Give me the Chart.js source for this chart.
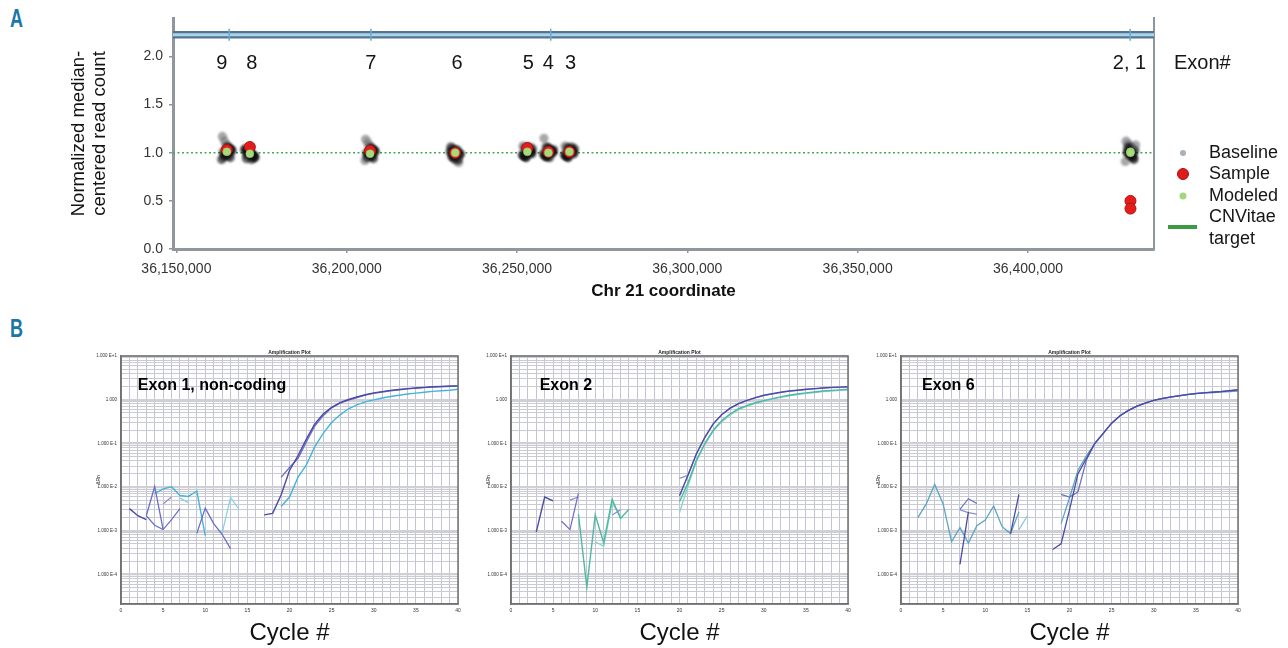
<!DOCTYPE html>
<html><head><meta charset="utf-8">
<script src="https://cdn.jsdelivr.net/npm/chart.js@4.4.0/dist/chart.umd.min.js"></script>
<style>
html,body{margin:0;padding:0;background:#fff;width:1288px;height:648px;overflow:hidden;}
.cv{position:absolute;}
.plabel{position:absolute;color:#1b76a8;font-family:"Liberation Sans","Roboto",sans-serif;font-weight:bold;font-size:25px;line-height:25px;transform:scaleX(0.72);transform-origin:left top;}
</style></head><body>
<div class="plabel" style="left:10px;top:6px">A</div>
<div class="plabel" style="left:10px;top:316px">B</div>
<canvas id="cA" class="cv" width="1288" height="310" style="left:0;top:0"></canvas>
<canvas id="cB1" class="cv" width="420" height="333" style="left:60px;top:315px"></canvas>
<canvas id="cB2" class="cv" width="420" height="333" style="left:450px;top:315px"></canvas>
<canvas id="cB3" class="cv" width="420" height="333" style="left:840px;top:315px"></canvas>
<script>
const FAM = '"Liberation Sans", Arial, Helvetica, sans-serif';
Chart.defaults.font.family = FAM;

// ---------------- Panel A data ----------------
const xTicksA = [36150000, 36200000, 36250000, 36300000, 36350000, 36400000];
const yTicksA = [0, 0.5, 1.0, 1.5, 2.0];
const exonLabels = ['9', '8', '7', '6', '5', '4', '3', '2, 1'];
const exonLabelPos = [36163300, 36172150, 36207100, 36232400, 36253300, 36259200, 36265700, 36429800];
const exonLabelY = 1.93;
const exonPos = [36164800, 36171560, 36206850, 36231850, 36253030, 36259210, 36265380, 36430090];
const bandY = 2.225;
const bandX = [36149000, 36437000];
const bandTickPos = [36165500, 36207100, 36259900, 36430000];
const refLineY = 1.0;
const jitterBp = [-1300, -650, 0, 650, 1300, -1000, -350, 350, 1000, -1500, 1500, -550, 550, 0, -850, 850];
const baseline9 = [1.17, 1.12, 1.08, 1.05, 1.03, 1.01, 0.99, 0.97, 0.95, 0.93, 1.02, 0.98, 1.00, 1.06, 0.96, 1.04];
const baseline8 = [1.04, 1.02, 1.00, 0.98, 0.96, 0.94, 1.01, 0.99, 0.97, 1.03, 0.95, 1.00, 0.93, 1.02, 0.98, 0.96];
const baseline7 = [1.14, 1.10, 1.07, 1.04, 1.02, 1.00, 0.98, 0.96, 0.94, 0.92, 1.01, 0.99, 0.97, 1.05, 0.95, 1.03];
const baseline6 = [1.06, 1.04, 1.02, 1.00, 0.98, 0.96, 0.94, 0.92, 0.90, 1.01, 0.99, 0.97, 1.03, 0.95, 1.00, 0.93];
const baseline5 = [1.07, 1.05, 1.03, 1.01, 0.99, 0.97, 0.95, 1.02, 1.00, 0.98, 1.04, 0.96, 1.06, 1.00, 0.97, 1.02];
const baseline4 = [1.15, 1.06, 1.04, 1.02, 1.00, 0.98, 0.96, 0.95, 1.01, 0.99, 1.03, 0.97, 1.00, 1.05, 0.96, 1.02];
const baseline3 = [1.07, 1.05, 1.03, 1.01, 0.99, 0.97, 0.95, 1.02, 1.00, 0.98, 1.04, 0.96, 1.06, 1.00, 0.97, 1.02];
const baseline21 = [1.12, 1.09, 1.06, 1.04, 1.02, 1.00, 0.98, 0.96, 0.93, 0.91, 1.08, 1.01, 0.99, 0.97, 1.05, 0.95];
const baselineSets = [baseline9, baseline8, baseline7, baseline6, baseline5, baseline4, baseline3, baseline21];
const samplePos = [36164800, 36171560, 36206850, 36231850, 36253030, 36259210, 36265380, 36430090, 36430090];
const sampleVal = [1.03, 1.06, 1.02, 1.00, 1.05, 1.01, 1.01, 0.50, 0.42];
const modeledVal = [1.01, 0.99, 0.99, 1.00, 1.01, 1.00, 1.01, 1.01, 1.00];
const legendLabels = ['Baseline', 'Sample', 'Modeled', 'CNVitae', 'target'];

// ---------------- Panel B data (ΔRn per cycle 1..40, null = not plotted) ----------------
const N = null;
const e1Dark1 = [.0032,.0022,.0018,N,N,N,N,N,N,N,N,N,N,N,N,N,.0023,.0025,.0066,.024,.052,.125,.28,.47,.67,.86,1.01,1.15,1.30,1.43,1.53,1.63,1.71,1.79,1.85,1.91,1.97,2.00,2.03,2.07];
const e1Dark2 = [N,N,.0022,.0103,.00106,N,N,N,.00087,.0033,.00145,.00083,.00039,N,N,N,N,N,.0166,.028,.045,.107,.25,.43,.65,.83,.98,1.12,1.27,1.40,1.50,1.60,1.68,1.76,1.83,1.89,1.95,1.99,2.03,2.07];
const e1Blue3 = [N,N,.0022,.00134,.00106,.0018,.0032,N,N,N,N,N,N,N,N,N,N,N,N,N,N,N,N,N,N,N,N,N,N,N,N,N,N,N,N,N,N,N,N,N];
const e1Blue4 = [N,N,N,N,.0041,.0059,N,N,N,N,N,N,N,N,N,N,N,N,N,N,N,N,N,N,N,N,N,N,N,N,N,N,N,N,N,N,N,N,N,N];
const e1Cyan1 = [N,N,N,.0071,.0091,.0101,.0064,.0061,.0081,.00077,N,N,N,N,N,N,N,N,.0036,.0059,.0166,.032,.084,.17,.30,.45,.62,.76,.89,.99,1.09,1.18,1.26,1.35,1.41,1.48,1.55,1.60,1.65,1.73];
const e1Cyan2 = [N,N,N,N,N,N,.0056,.0044,N,N,N,.00087,.0058,.0031,N,N,N,N,N,N,N,N,N,N,N,N,N,N,N,N,N,N,N,N,N,N,N,N,N,N];

const e2P1 = [N,N,.00094,.0059,.0048,N,N,N,N,N,N,N,N,N,N,N,N,N,N,.0063,.0185,.057,.136,.28,.45,.64,.81,.96,1.11,1.26,1.37,1.48,1.58,1.65,1.73,1.79,1.85,1.91,1.94,1.97];
const e2P2 = [N,N,N,N,N,.00165,.00106,.0072,N,N,N,N,N,N,N,N,N,N,N,N,N,N,N,N,N,N,N,N,N,N,N,N,N,N,N,N,N,N,N,N];
const e2P3 = [N,N,N,N,N,N,.0050,.0059,N,N,N,.0023,.0030,N,N,N,N,N,N,.0158,.0185,.057,.14,.28,.45,.63,.80,.95,1.10,1.24,1.35,1.46,1.56,1.63,1.70,1.77,1.83,1.88,1.92,1.95];
const e2T1 = [N,N,N,N,N,N,N,.0024,.000051,.0023,.00053,.0052,.0019,.0031,N,N,N,N,N,.0046,.0124,.041,.099,.20,.33,.47,.62,.73,.85,.95,1.06,1.16,1.26,1.35,1.43,1.50,1.58,1.63,1.68,1.73];
const e2T2 = [N,N,N,N,N,N,N,N,N,.00056,.00044,.0043,.0022,N,N,N,N,N,N,.0026,.0106,.038,.094,.19,.31,.45,.59,.71,.82,.92,1.03,1.13,1.22,1.30,1.39,1.46,1.53,1.58,1.63,1.68];

const e6T1 = [N,.0020,.0041,.0115,.0041,.00056,.00118,.00052,.0013,.00176,.0037,.00124,.00086,.0027,N,N,N,N,.00145,.0056,.024,.052,.099,.17,.29,.43,.57,.71,.83,.96,1.06,1.15,1.22,1.30,1.37,1.43,1.46,1.50,1.53,1.58];
const e6T2 = [N,N,N,N,N,N,N,N,N,N,N,N,N,.00106,.0022,N,N,N,N,N,N,N,N,N,N,N,N,N,N,N,N,N,N,N,N,N,N,N,N,N];
const e6P1 = [N,N,N,N,N,N,.000169,.0027,N,N,N,N,.00086,.0068,N,N,N,.00037,.0005,.0030,.020,.045,.099,.17,.29,.43,.57,.71,.83,.96,1.06,1.15,1.22,1.30,1.37,1.43,1.48,1.53,1.60,1.68];
const e6P2 = [N,N,N,N,N,N,.0031,.0054,.0042,N,N,N,N,N,N,N,N,N,.0068,.0059,.0077,.041,.10,.17,.29,.43,.57,.71,.84,.97,1.07,1.16,1.24,1.32,1.39,1.45,1.50,1.55,1.62,1.70];
const e6P3 = [N,N,N,N,N,N,.0030,.0026,.0024,N,N,N,N,N,N,N,N,N,N,N,N,N,N,N,N,N,N,N,N,N,N,N,N,N,N,N,N,N,N,N];

const ampYTickLabels = {'1': '1.000 E+1', '0': '1.000', '-1': '1.000 E-1', '-2': '1.000 E-2', '-3': '1.000 E-3', '-4': '1.000 E-4'};
const cycleTicks = [0, 5, 10, 15, 20, 25, 30, 35, 40];

// ---------------- plugins ----------------
const blurPlugin = {
  id: 'blurPts',
  beforeDatasetDraw(chart, args) {
    const ds = chart.data.datasets[args.index];
    if (ds.blur) { chart.ctx.save(); chart.ctx.filter = 'blur(' + ds.blur + 'px)'; }
  },
  afterDatasetDraw(chart, args) {
    const ds = chart.data.datasets[args.index];
    if (ds.blur) { chart.ctx.restore(); }
  }
};

const annotA = {
  id: 'annotA',
  afterDraw(chart) {
    const {ctx, chartArea} = chart;
    const x = chart.scales.x, y = chart.scales.y;
    ctx.save();
    ctx.fillStyle = '#151515';
    ctx.font = '20px ' + FAM;
    ctx.textAlign = 'center';
    ctx.textBaseline = 'middle';
    const ly = y.getPixelForValue(exonLabelY);
    exonLabels.forEach((t, i) => ctx.fillText(t, x.getPixelForValue(exonLabelPos[i]), ly));
    ctx.textAlign = 'left';
    ctx.fillText('Exon#', chartArea.right + 20, ly);
    // legend
    const lx = chartArea.right + 29, tx = chartArea.right + 55;
    const rows = [153, 174, 196, 217, 239];
    ctx.font = '18px ' + FAM;
    legendLabels.forEach((t, i) => ctx.fillText(t, tx, rows[i]));
    ctx.beginPath(); ctx.fillStyle = '#a9b0b8'; ctx.arc(lx, rows[0], 3, 0, Math.PI * 2); ctx.fill();
    ctx.beginPath(); ctx.fillStyle = '#e01b1b'; ctx.strokeStyle = '#a81010'; ctx.arc(lx, rows[1], 5.5, 0, Math.PI * 2); ctx.fill(); ctx.stroke();
    ctx.beginPath(); ctx.fillStyle = '#a3d77c'; ctx.arc(lx, rows[2], 3.5, 0, Math.PI * 2); ctx.fill();
    ctx.beginPath(); ctx.strokeStyle = '#3c9a44'; ctx.lineWidth = 4; ctx.moveTo(lx - 15, 227); ctx.lineTo(lx + 14, 227); ctx.stroke();
    ctx.restore();
  }
};

const ampDeco = {
  id: 'ampDeco',
  afterDraw(chart, args, opts) {
    const {ctx, chartArea: ca} = chart;
    const x = chart.scales.x, y = chart.scales.y;
    ctx.save();
    ctx.strokeStyle = '#707070';
    ctx.lineWidth = 1.5;
    ctx.strokeRect(ca.left, ca.top, ca.right - ca.left, ca.bottom - ca.top);
    ctx.fillStyle = '#222';
    ctx.font = 'bold 5px ' + FAM;
    ctx.textAlign = 'center';
    ctx.textBaseline = 'bottom';
    ctx.fillText('Amplification Plot', (ca.left + ca.right) / 2, ca.top - 1);
    ctx.font = 'bold 16px ' + FAM;
    ctx.textAlign = 'left';
    ctx.textBaseline = 'middle';
    ctx.fillStyle = '#000';
    ctx.fillText(opts.label, x.getPixelForValue(opts.lx), y.getPixelForValue(opts.ly));
    ctx.restore();
  }
};

// ---------------- Panel A chart ----------------
const baselinePts = [];
baselineSets.forEach((vals, i) => vals.forEach((v, j) => baselinePts.push({x: exonPos[i] + jitterBp[j], y: v})));
const axisGray = '#8f969e';

new Chart(document.getElementById('cA'), {
  type: 'scatter',
  data: {
    datasets: [
      {label: 'Modeled', data: samplePos.map((p, i) => ({x: p, y: modeledVal[i]})), pointRadius: 4, backgroundColor: '#a6da7c', borderColor: '#8cc460', borderWidth: 0.5, blur: 0.4},
      {label: 'Sample', data: samplePos.map((p, i) => ({x: p, y: sampleVal[i]})), pointRadius: 5.5, backgroundColor: '#e41c1c', borderColor: '#b01212', borderWidth: 1, blur: 0.5},
      {label: 'Baseline', data: baselinePts, pointRadius: 4.6, borderWidth: 0, blur: 1.2,
        backgroundColor: ctx => { const v = ctx.raw ? ctx.raw.y : 1; return Math.abs(v - 1) > 0.07 ? 'rgba(110,110,115,0.6)' : 'rgba(15,15,18,0.62)'; }},
      {label: 'ref', data: bandX.map(v => ({x: v, y: refLineY})), showLine: true, pointRadius: 0, borderColor: '#4aa84d', borderWidth: 1.6, borderDash: [2, 2.5]},
      {label: 'bandTicks', data: bandTickPos.map(v => ({x: v, y: bandY})), pointStyle: 'line', rotation: 90, pointRadius: 6, borderColor: '#6aaad4', borderWidth: 1.5},
      {label: 'bandLight', data: bandX.map(v => ({x: v, y: bandY})), showLine: true, pointRadius: 0, borderColor: '#a6d6ef', borderWidth: 3},
      {label: 'bandDark', data: bandX.map(v => ({x: v, y: bandY})), showLine: true, pointRadius: 0, borderColor: '#58748a', borderWidth: 7.5}
    ]
  },
  options: {
    responsive: false, animation: false,
    layout: {padding: {left: 0, right: 134, top: 18, bottom: 0}},
    plugins: {legend: {display: false}, tooltip: {enabled: false}},
    scales: {
      x: {
        type: 'linear', min: 36149000, max: 36437000,
        afterBuildTicks: s => { s.ticks = xTicksA.map(v => ({value: v})); },
        afterFit: s => { s.height = 61; },
        grid: {display: true, drawOnChartArea: false, drawTicks: true, tickLength: 4, color: axisGray, lineWidth: 1.5},
        border: {display: true, color: axisGray, width: 3},
        ticks: {color: '#333', font: {size: 14}, padding: 8, autoSkip: false, maxRotation: 0, callback: v => Number(v).toLocaleString('en-US')},
        title: {display: true, text: 'Chr 21 coordinate', color: '#111', font: {size: 17, weight: 'bold'}, padding: {top: 0, bottom: 8}}
      },
      y: {
        min: 0, max: 2.4,
        afterBuildTicks: s => { s.ticks = yTicksA.map(v => ({value: v})); },
        afterFit: s => { s.width = 173; },
        grid: {display: true, drawOnChartArea: false, drawTicks: true, tickLength: 4, color: axisGray, lineWidth: 1.5},
        border: {display: true, color: axisGray, width: 3},
        ticks: {color: '#333', font: {size: 14}, padding: 6, callback: v => Number(v).toFixed(1)},
        title: {display: true, text: ['Normalized median-', 'centered read count'], color: '#111', font: {size: 18.5, lineHeight: 1.15}, padding: {top: 68, bottom: 0}}
      },
      y2: {
        position: 'right', display: true,
        afterFit: s => { s.width = 0; },
        grid: {display: false}, ticks: {display: false},
        border: {display: true, color: axisGray, width: 2}
      }
    }
  },
  plugins: [blurPlugin, annotA]
});

// ---------------- Panel B charts ----------------
function series(arr, color, w) {
  return {data: arr.map((v, i) => ({x: i + 1, y: v})), showLine: true, spanGaps: false, pointRadius: 0, borderColor: color, borderWidth: w || 1.2, tension: 0};
}
function ampChart(id, datasets, label, lx, ly) {
  new Chart(document.getElementById(id), {
    type: 'scatter',
    data: {datasets},
    options: {
      responsive: false, animation: false,
      layout: {padding: {left: 0, right: 22, top: 41, bottom: 0}},
      plugins: {legend: {display: false}, tooltip: {enabled: false}, ampDeco: {label, lx, ly}},
      scales: {
        x: {
          type: 'linear', min: 0, max: 40,
          afterBuildTicks: s => { const t = []; for (let c = 0; c <= 40; c++) t.push({value: c}); s.ticks = t; },
          afterFit: s => { s.height = 44; },
          grid: {color: '#c3c5d5', lineWidth: 1, drawTicks: false},
          border: {display: true, color: '#707070', width: 1.5},
          ticks: {autoSkip: false, maxRotation: 0, padding: 4, color: '#333', font: {size: 5},
            callback: v => cycleTicks.includes(v) ? String(v) : ''},
          title: {display: true, text: 'Cycle #', color: '#111', font: {size: 24}, padding: {top: 0, bottom: 0}}
        },
        y: {
          type: 'logarithmic', min: 2.1e-5, max: 10,
          afterBuildTicks: s => {
            const t = [];
            for (let e = -5; e <= 0; e++) for (let m = 1; m <= 9; m++) {
              const v = Number((m * Math.pow(10, e)).toPrecision(6));
              if (v >= 2.1e-5) t.push({value: v});
            }
            t.push({value: 10});
            s.ticks = t;
          },
          afterFit: s => { s.width = 61; },
          grid: {drawTicks: false,
            color: c => { const l = Math.log10(c.tick.value); return Math.abs(l - Math.round(l)) < 1e-6 ? '#cfcfd4' : '#cacad2'; },
            lineWidth: c => { const l = Math.log10(c.tick.value); return Math.abs(l - Math.round(l)) < 1e-6 ? 2.2 : 1; }},
          border: {display: true, color: '#707070', width: 1.5},
          ticks: {autoSkip: false, padding: 4, color: '#333', font: {size: 4.5},
            callback: v => { const l = Math.log10(v); const k = Math.round(l); return Math.abs(l - k) < 1e-6 ? (ampYTickLabels[String(k)] || '') : ''; }},
          title: {display: true, text: 'ΔRn', color: '#222', font: {size: 5}, padding: {top: 36, bottom: 0}}
        }
      }
    },
    plugins: [ampDeco]
  });
}

const PD = '#4b4aa6', PM = '#6a6dc8', PL = '#8a8ed6', CY = '#45b4da', CL = '#80cfe4', TE = '#4fb7a6', TL = '#80d3c4', BT = '#5aa6c2', BTL = '#86c4d6';
ampChart('cB1', [series(e1Dark1, PD, 1.4), series(e1Dark2, PM, 1.3), series(e1Blue3, PM), series(e1Blue4, PL), series(e1Cyan1, CY, 1.4), series(e1Cyan2, CL)],
  'Exon 1, non-coding', 2.0, 2.1);
ampChart('cB2', [series(e2P1, PD, 1.4), series(e2P2, PM), series(e2P3, PL), series(e2T1, TE, 1.4), series(e2T2, TL, 1.3)],
  'Exon 2', 3.4, 2.1);
ampChart('cB3', [series(e6P1, PD, 1.3), series(e6P2, PM), series(e6P3, PL), series(e6T1, BT, 1.3), series(e6T2, BTL)],
  'Exon 6', 2.5, 2.1);
</script>
</body></html>
